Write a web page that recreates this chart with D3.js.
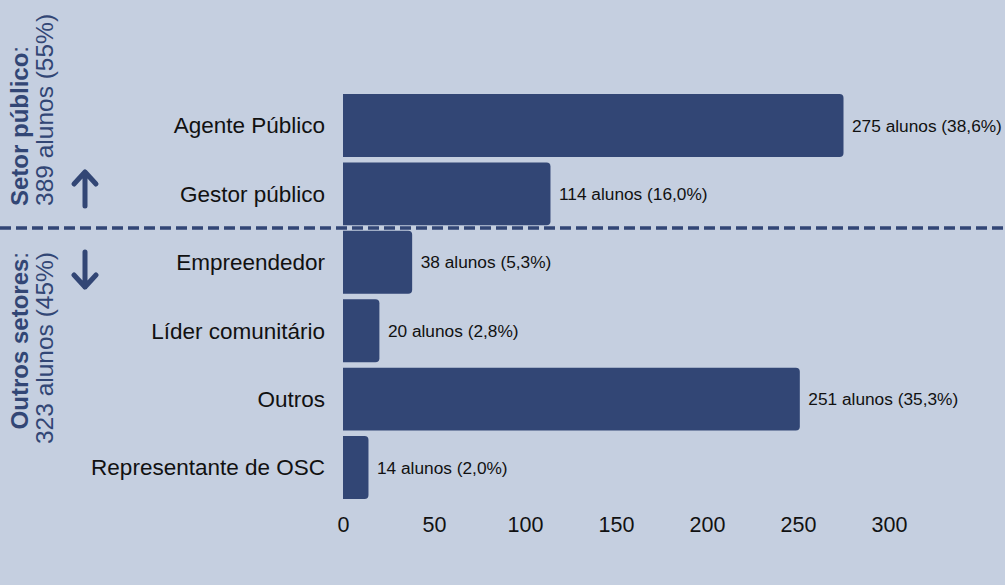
<!DOCTYPE html>
<html><head><meta charset="utf-8">
<script src="https://cdn.jsdelivr.net/npm/d3@7"></script>
<style>
html,body{margin:0;padding:0;background:#c5cfe0;}
svg{display:block;font-family:"Liberation Sans",Arial,sans-serif;}
</style></head>
<body>
<svg id="chart" width="1005" height="585"></svg>
<script>
const categories = ["Agente Público","Gestor público","Empreendedor","Líder comunitário","Outros","Representante de OSC"];
const values = [275,114,38,20,251,14];
const labels = ["275 alunos (38,6%)","114 alunos (16,0%)","38 alunos (5,3%)","20 alunos (2,8%)","251 alunos (35,3%)","14 alunos (2,0%)"];
const xTicks = [0,50,100,150,200,250,300];
const groupTitles = ["Setor público","Outros setores"];
const groupSubs = ["389 alunos (55%)","323 alunos (45%)"];

const navy = "#324675";
const svg = d3.select("#chart");
svg.append("rect").attr("width",1005).attr("height",585).attr("fill","#c5cfe0");

const x = d3.scaleLinear().domain([0,300]).range([343,889]);
const y = d3.scaleBand().domain(categories).range([91.3,501.7]).paddingInner(0.08).paddingOuter(0.04);

const r = 4;
function barPath(d,i){
  const x0 = x(0), x1 = x(values[i]), y0 = y(categories[i]), h = y.bandwidth();
  const rr = Math.min(r, (x1-x0));
  return `M${x0},${y0}H${x1-rr}Q${x1},${y0} ${x1},${y0+rr}V${y0+h-rr}Q${x1},${y0+h} ${x1-rr},${y0+h}H${x0}Z`;
}
svg.append("g").selectAll("path").data(values).join("path")
  .attr("d",barPath).attr("fill",navy);

svg.append("g").selectAll("text").data(categories).join("text")
  .attr("x",325).attr("y",d=>y(d)+y.bandwidth()/2).attr("dy","0.35em")
  .attr("text-anchor","end").attr("font-size",22.5).attr("fill","#111")
  .text(d=>d);

svg.append("g").selectAll("text").data(labels).join("text")
  .attr("x",(d,i)=>x(values[i])+8.5).attr("y",(d,i)=>y(categories[i])+y.bandwidth()/2).attr("dy","0.35em")
  .attr("font-size",17.3).attr("fill","#111")
  .text(d=>d);

const xAxis = d3.axisBottom(x).tickValues(xTicks).tickSize(0).tickPadding(0);
const ax = svg.append("g").attr("transform","translate(0,532)").call(xAxis);
ax.select(".domain").remove();
ax.selectAll("text").attr("font-size",21.5).attr("fill","#111").attr("font-family","Liberation Sans, Arial, sans-serif").attr("dy","0");

// divider
const divY = (y(categories[1])+y.bandwidth()+y(categories[2]))/2;
svg.append("line").attr("x1",0).attr("x2",1005).attr("y1",divY).attr("y2",divY)
  .attr("stroke",navy).attr("stroke-width",3.5).attr("stroke-dasharray","11,5");

// group labels (anchored at the divider side)
const anchors = [{y:206, a:"start"},{y:252, a:"end"}];
anchors.forEach((o,i)=>{
  const g = svg.append("g").attr("transform",`translate(0,${o.y}) rotate(-90)`);
  const t1 = g.append("text").attr("x",0).attr("y",28).attr("text-anchor",o.a)
    .attr("font-size",24).attr("fill",navy);
  t1.append("tspan").attr("font-weight","bold").text(groupTitles[i]);
  t1.append("tspan").text(":");
  g.append("text").attr("x",0).attr("y",53).attr("text-anchor",o.a)
    .attr("font-size",24.5).attr("fill",navy).text(groupSubs[i]);
});

// arrows
function arrow(xc, yTip, yTail){
  const dir = yTip < yTail ? 1 : -1;
  svg.append("path")
    .attr("d",`M${xc},${yTail}V${yTip}M${xc-11},${yTip+dir*12}L${xc},${yTip}L${xc+11},${yTip+dir*12}`)
    .attr("fill","none").attr("stroke",navy).attr("stroke-width",5)
    .attr("stroke-linecap","round").attr("stroke-linejoin","round");
}
arrow(85,172,206);
arrow(85,287,252);
</script>
</body></html>
